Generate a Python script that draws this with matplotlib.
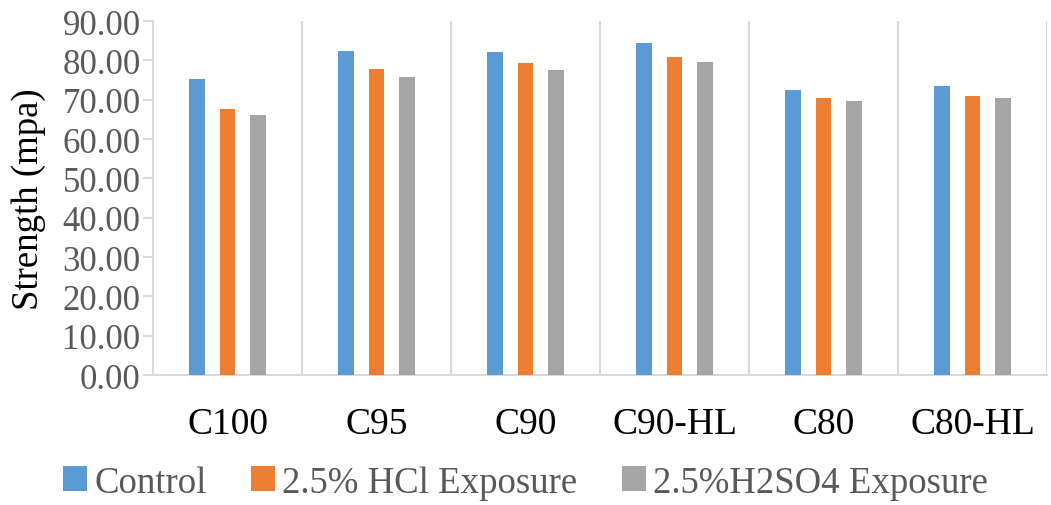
import numpy as np
import matplotlib
matplotlib.use("Agg")
import matplotlib.pyplot as plt
from matplotlib.patches import Patch

# data
categories = ["C100", "C95", "C90", "C90-HL", "C80", "C80-HL"]
control = [75.3, 82.5, 82.0, 84.5, 72.5, 73.5]
hcl = [67.6, 77.7, 79.2, 80.9, 70.4, 70.9]
h2so4 = [66.2, 75.7, 77.5, 79.5, 69.7, 70.4]
series_names = ["Control", "2.5% HCl Exposure", "2.5%H2SO4 Exposure"]
colours = ["#5B9BD5", "#ED7D31", "#A5A5A5"]
yticks = np.arange(0, 91, 10)

plt.rcParams['font.family'] = ['Liberation Serif', 'DejaVu Serif']

fig = plt.figure(figsize=(10.51, 5.06), dpi=100)
ax = fig.add_axes([0.1456, 0.2569, 0.8506, 0.6996])

x = np.arange(len(categories))
offset = 0.205
width = 0.107
for i, vals in enumerate([control, hcl, h2so4]):
    ax.bar(x + (i - 1) * offset, vals, width, color=colours[i], zorder=3)

ax.set_xlim(-0.5, len(categories) - 0.5)
ax.set_ylim(0, 90)
ax.set_yticks(yticks)
ax.set_yticklabels([f"{v:.2f}" for v in yticks])

# vertical separators between categories
ax.set_xticks(x)
ax.set_xticklabels(categories)
ax.set_xticks(np.arange(-0.5, len(categories)), minor=True)
ax.grid(axis='x', which='minor', color='#d9d9d9', linewidth=1.5, zorder=0)
ax.tick_params(axis='x', which='both', length=0, pad=23, labelsize=27, labelcolor='black')
ax.tick_params(axis='y', length=7, width=1.5, color='#d9d9d9', labelsize=25,
               labelcolor='#595959', pad=2)

for side in ['top', 'right']:
    ax.spines[side].set_visible(False)
for side in ['left', 'bottom']:
    ax.spines[side].set_color('#d9d9d9')
    ax.spines[side].set_linewidth(1.5)

ax.set_ylabel("Strength (mpa)", fontsize=26.5, color='black', labelpad=12)

handles = [Patch(facecolor=c, edgecolor='none') for c in colours]
fig.legend(handles, series_names, loc='lower center', bbox_to_anchor=(0.5, -0.055),
           ncol=3, frameon=False, fontsize=26.5, labelcolor='#595959',
           handlelength=0.65, handleheight=0.65, handletextpad=0.2, columnspacing=1.2)

fig.savefig("out.png", dpi=100)
plt.close()
